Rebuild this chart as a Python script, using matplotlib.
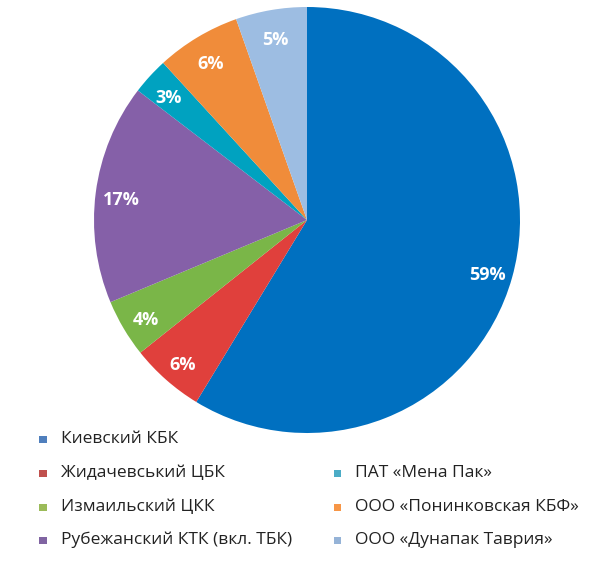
import matplotlib
matplotlib.use("Agg")
import matplotlib.pyplot as plt
from matplotlib.patches import Rectangle

plt.rcParams['font.family'] = ['Open Sans', 'DejaVu Sans']

# data (clockwise from 12 o'clock)
companies = ["Киевский КБК", "Жидачевський ЦБК", "Измаильский ЦКК",
             "Рубежанский КТК (вкл. ТБК)", "ПАТ «Мена Пак»",
             "ООО «Понинковская КБФ»", "ООО «Дунапак Таврия»"]
shares = [58.7, 5.6, 4.4, 16.7, 2.8, 6.4, 5.4]
slice_colors = ["#0070c0", "#e0403c", "#7ab648", "#8560a8", "#00a2c0",
                "#f08c3a", "#9dbde2"]
legend_colors = ["#4f7fbd", "#c0504d", "#9bbb59", "#8064a2", "#4bacc6",
                 "#f79646", "#95b3d7"]

W, H = 600, 572
fig = plt.figure(figsize=(W / 100, H / 100), dpi=100)

# pie: centre (307, 220) px, radius 213 px
cx, cy, r = 307, 220, 213
ax = fig.add_axes([(cx - r) / W, 1 - (cy + r) / H, 2 * r / W, 2 * r / H])
wedges, texts, autotexts = ax.pie(
    shares, colors=slice_colors, startangle=90, counterclock=False,
    radius=1.0, labeldistance=None, pctdistance=0.88,
    autopct=lambda p: f"{p:.0f}%",
    textprops=dict(color="white", fontsize=13, fontweight="bold"),
    wedgeprops=dict(linewidth=0))
# excel puts the labels a touch lower than the plain mid-angle point
for t in autotexts:
    x, y = t.get_position()
    t.set_position((x, y - 0.02))
ax.set_xlim(-1, 1)
ax.set_ylim(-1, 1)
ax.set_aspect("auto")
ax.axis("off")

# legend: column 1 has 4 rows, column 2 starts at row 2
rows_y = [439, 473, 507, 540]
slots = [(0, 0), (0, 1), (0, 2), (0, 3), (1, 1), (1, 2), (1, 3)]
col_x = [43, 337]
for (col, row), name, c in zip(slots, companies, legend_colors):
    mx, my = col_x[col], rows_y[row]
    s = 7
    fig.patches.append(Rectangle(((mx - s / 2) / W, 1 - (my + s / 2) / H),
                                 s / W, s / H, transform=fig.transFigure,
                                 facecolor=c, edgecolor="none"))
    fig.text((mx + 18) / W, 1 - my / H, name, fontsize=12.5, color="#222222",
             va="center", ha="left")

fig.savefig("out.png", dpi=100)
